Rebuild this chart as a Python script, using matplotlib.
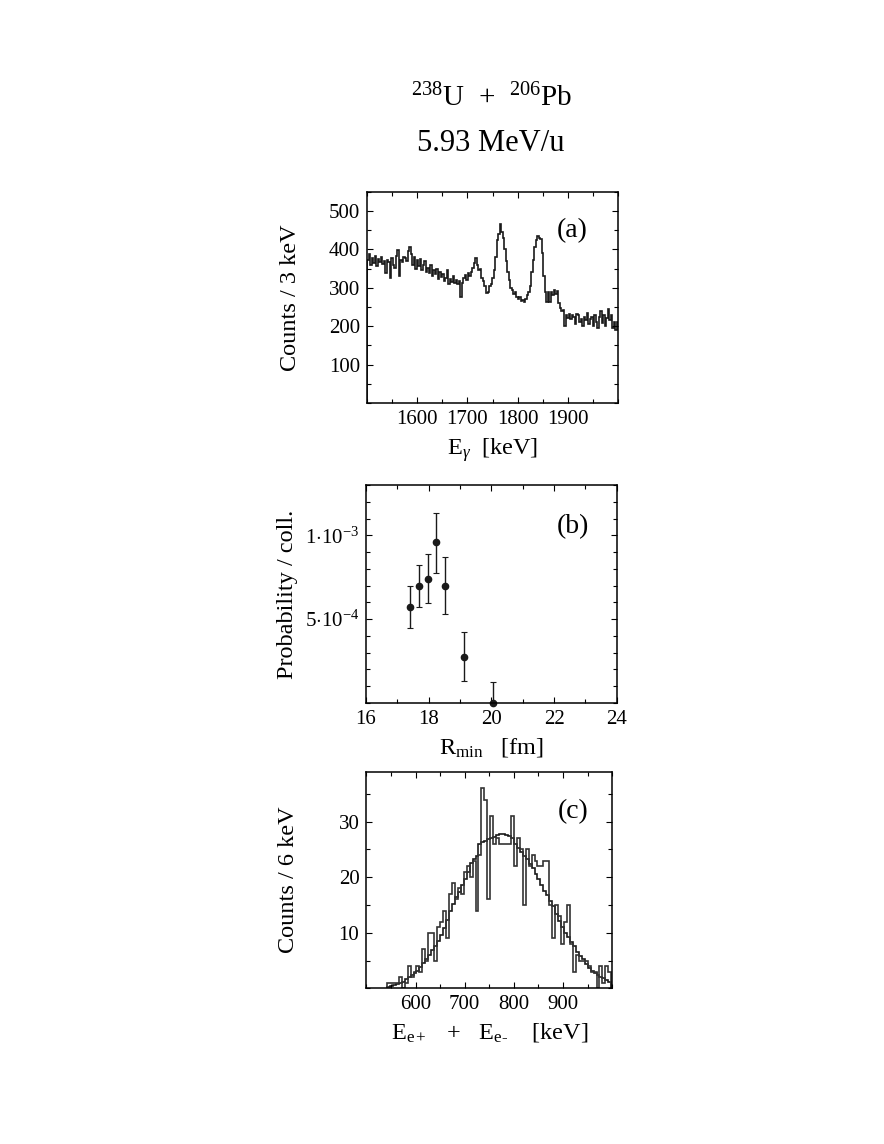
import matplotlib
matplotlib.use("Agg")
import matplotlib.pyplot as plt
from matplotlib.ticker import MultipleLocator, FixedLocator, FixedFormatter
import numpy as np

plt.rcParams['font.family'] = ['Liberation Serif', 'DejaVu Serif']
plt.rcParams['mathtext.fontset'] = 'custom'
plt.rcParams['mathtext.rm'] = 'Liberation Serif'
plt.rcParams['mathtext.it'] = 'Liberation Serif:italic'
plt.rcParams['mathtext.sf'] = 'DejaVu Sans'

# (a) gamma spectrum, 3 keV bins from 1500 keV
a_start = 1500
a_width = 3
a_counts = [
    372, 388, 360, 378, 365, 382, 356, 375, 368, 380,
    362, 370, 338, 372, 366, 325, 378, 360, 352, 384,
    398, 330, 372, 366, 380, 378, 370, 395, 406, 388,
    360, 380, 348, 372, 356, 375, 345, 360, 370, 340,
    352, 338, 360, 330, 345, 335, 350, 322, 340, 328,
    335, 318, 325, 345, 310, 322, 315, 330, 312, 320,
    310, 318, 277, 312, 325, 332, 320, 338, 330, 342,
    352, 365, 378, 360, 345, 348, 325, 318, 305, 286,
    290, 305, 310, 325, 345, 380, 425, 440, 465, 445,
    430, 400, 370, 340, 320, 300, 295, 285, 290, 275,
    270, 275, 265, 268, 262, 270, 282, 290, 305, 340,
    372, 405, 425, 435, 430, 428, 390, 330, 290, 262,
    290, 262, 288, 280, 295, 285, 292, 260, 248, 240,
    242, 200, 228, 222, 232, 218, 230, 225, 205, 232,
    228, 210, 220, 200, 225, 215, 235, 205, 218, 225,
    200, 230, 212, 195, 225, 240, 208, 228, 200, 222,
    245, 215, 230, 195, 212, 190, 210,
]

# (b) probability vs R_min
b_rmin = [17.39, 17.69, 17.99, 18.23, 18.52, 19.13, 20.05]
b_prob = [5.71e-4, 6.99e-4, 7.42e-4, 9.57e-4, 6.99e-4, 2.74e-4, 0.0]
b_err_up = [1.24e-4, 1.26e-4, 1.48e-4, 1.75e-4, 1.71e-4, 1.47e-4, 1.25e-4]
b_err_lo = [1.22e-4, 1.26e-4, 1.49e-4, 1.80e-4, 1.69e-4, 1.46e-4, 0.0]

# (c) sum energy spectra, 6 keV bins from 542 keV
c_start = 542
c_width = 6
c_data = [
    1, 1, 1, 1, 2, 0, 1, 4, 2, 3,
    4, 3, 7, 5, 10, 10, 5, 11, 12, 14,
    9, 17, 19, 16, 18, 17, 21, 22, 20, 23,
    14, 24, 36, 34, 16, 31, 26, 27, 26, 26,
    26, 26, 31, 22, 27, 25, 15, 25, 22, 24,
    23, 22, 22, 23, 23, 15, 9, 15, 13, 8,
    12, 15, 8, 3, 6, 5, 5, 5, 4, 3,
    3, 0, 4, 1, 4, 3,
]
c_sim = [
    0.2, 0.4, 0.6, 0.8, 1.0, 1.2, 1.6, 2.0, 2.4, 2.8,
    3.2, 3.8, 4.5, 5.2, 6.0, 6.9, 7.6, 8.6, 9.6, 10.8,
    12.3, 14.0, 15.2, 16.4, 17.4, 18.6, 19.7, 21.0, 22.5, 23.3,
    23.9, 26.0, 26.3, 26.6, 26.8, 27.0, 27.2, 27.6, 27.8, 27.8,
    27.6, 27.5, 27.0, 26.0, 25.2, 24.6, 23.8, 23.2, 22.4, 21.6,
    20.6, 19.6, 18.6, 17.6, 16.8, 15.8, 14.8, 13.4, 12.2, 11.0,
    10.0, 9.2, 8.4, 7.6, 6.6, 5.8, 5.2, 4.4, 3.7, 3.2,
    2.8, 2.4, 2.1, 1.8, 1.5, 1.2,
]

fig = plt.figure(figsize=(8.84, 11.44), dpi=100)

TICK_FS = 15
LABEL_FS = 17.5
PANEL_FS = 20


def style_axes(ax, ylab_x):
    ax.tick_params(which='both', direction='in', top=True, right=True,
                   labelsize=TICK_FS, width=0.8, pad=5)
    ax.tick_params(which='major', length=4)
    ax.tick_params(which='minor', length=3)
    for s in ax.spines.values():
        s.set_linewidth(1.1)
    ax.yaxis.set_label_coords(ylab_x, 0.5)


fig.text(0.5565, 0.9145, r'$^{238}$U  +  $^{206}$Pb', ha='center', va='center', fontsize=21)
fig.text(0.5555, 0.8745, '5.93 MeV/u', ha='center', va='center', fontsize=22)

# ---- panel (a)
ax1 = fig.add_axes([0.4152, 0.6477, 0.2839, 0.1847])
edges_a = a_start + a_width * np.arange(len(a_counts) + 1)
ax1.stairs(a_counts, edges_a, color='#1a1a1a', lw=1.2)
ax1.set_xlim(1500, 2000)
ax1.set_ylim(0, 550)
ax1.xaxis.set_major_locator(FixedLocator([1600, 1700, 1800, 1900]))
ax1.xaxis.set_minor_locator(MultipleLocator(50))
ax1.yaxis.set_major_locator(FixedLocator([100, 200, 300, 400, 500]))
ax1.yaxis.set_minor_locator(MultipleLocator(50))
ax1.set_ylabel('Counts / 3 keV', fontsize=LABEL_FS)
ax1.set_xlabel(r'E$_{\gamma}$  [keV]', fontsize=LABEL_FS, labelpad=5)
style_axes(ax1, -0.265)
ax1.text(0.817, 0.815, '(a)', transform=ax1.transAxes, ha='center', va='center',
         fontsize=PANEL_FS)

# ---- panel (b)
ax2 = fig.add_axes([0.4140, 0.3857, 0.2836, 0.1903])
ax2.errorbar(b_rmin, b_prob, yerr=[b_err_lo, b_err_up], fmt='o', color='#1a1a1a',
             ms=4.5, elinewidth=1.0, capsize=2, capthick=0.8, clip_on=False)
ax2.set_xlim(16, 24)
ax2.set_ylim(0, 1.3e-3)
ax2.xaxis.set_major_locator(MultipleLocator(2))
ax2.xaxis.set_minor_locator(MultipleLocator(1))
ax2.yaxis.set_major_locator(FixedLocator([5e-4, 1e-3]))
ax2.yaxis.set_major_formatter(FixedFormatter([r'$5{\cdot}10^{-4}$', r'$1{\cdot}10^{-3}$']))
ax2.yaxis.set_minor_locator(MultipleLocator(1e-4))
ax2.set_ylabel('Probability / coll.', fontsize=LABEL_FS)
ax2.set_xlabel(r'R$_{\rm min}$   [fm]', fontsize=LABEL_FS, labelpad=5)
style_axes(ax2, -0.27)
ax2.text(0.826, 0.807, '(b)', transform=ax2.transAxes, ha='center', va='center',
         fontsize=PANEL_FS)

# ---- panel (c)
ax3 = fig.add_axes([0.4144, 0.1361, 0.2782, 0.1893])
edges_c = c_start + c_width * np.arange(len(c_data) + 1)
ax3.stairs(c_sim, edges_c, color='#1a1a1a', lw=1.2)
ax3.stairs(c_data, edges_c, color='#333333', lw=1.2)
ax3.set_xlim(500, 1000)
ax3.set_ylim(0, 39)
ax3.xaxis.set_major_locator(FixedLocator([600, 700, 800, 900]))
ax3.xaxis.set_minor_locator(MultipleLocator(50))
ax3.yaxis.set_major_locator(FixedLocator([10, 20, 30]))
ax3.yaxis.set_minor_locator(MultipleLocator(5))
ax3.set_ylabel('Counts / 6 keV', fontsize=LABEL_FS)
ax3.set_xlabel(r'E$_{\rm e+}$   +   E$_{\rm e\text{-}}$    [keV]', fontsize=LABEL_FS, labelpad=5)
style_axes(ax3, -0.272)
ax3.text(0.84, 0.814, '(c)', transform=ax3.transAxes, ha='center', va='center',
         fontsize=PANEL_FS)

fig.savefig('out.png', dpi=100)
